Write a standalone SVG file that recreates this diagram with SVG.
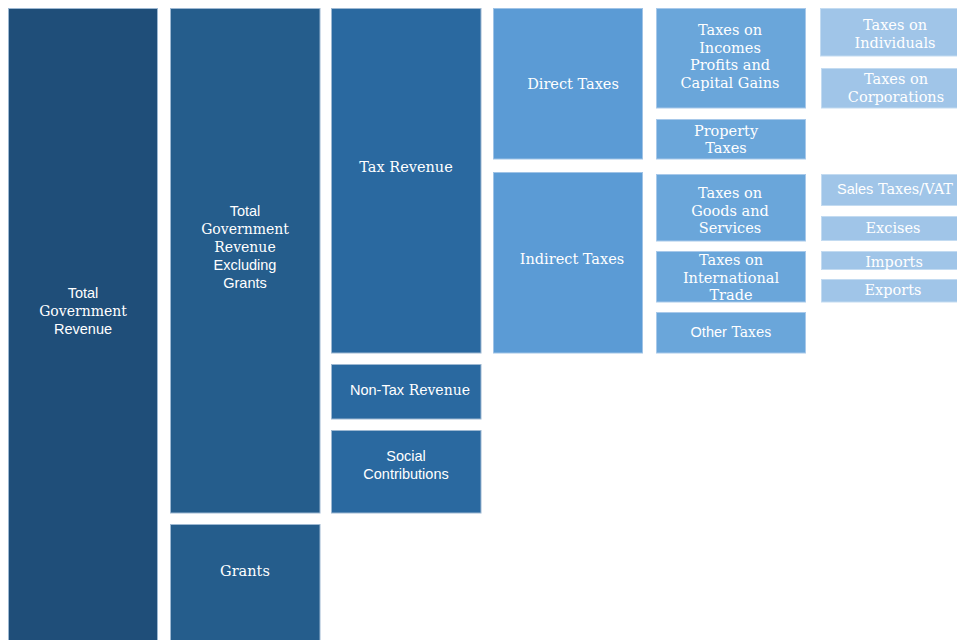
<svg xmlns="http://www.w3.org/2000/svg" width="957" height="640" viewBox="0 0 957 640">
<style>
.b{stroke:#9db8d2;stroke-width:1}
.c1{fill:#1f4e79}
.c2{fill:#255d8c}
.c3{fill:#2a69a0}
.c4{fill:#5b9bd5;stroke:#9fc3e6}
.c5{fill:#6aa6da;stroke:#a8c9ea}
.c6{fill:#a0c5e8;stroke:#c3dbf1}
text{fill:#ffffff;text-anchor:middle;font-size:14.5px;font-family:"DejaVu Serif","Liberation Serif",serif}
.s{font-family:"Liberation Sans",Arial,sans-serif;font-size:14.5px}
.r{font-family:"DejaVu Serif","Liberation Serif",serif;font-size:14px}
</style>
<rect width="957" height="640" fill="#ffffff"/>
<g id="connectors"></g>
<g id="n-total">
<rect class="b c1" x="8.5" y="8.5" width="149" height="640"/>
<text x="83" y="298" class="s">Total</text>
<text x="83" y="316" class="r">Government</text>
<text x="83" y="334" class="s">Revenue</text>
</g>
<g id="n-excl">
<rect class="b c2" x="170.5" y="8.5" width="149.5" height="504.5"/>
<text x="245" y="216" class="s">Total</text>
<text x="245" y="234" class="r">Government</text>
<text x="245" y="252" class="r">Revenue</text>
<text x="245" y="270" class="s">Excluding</text>
<text x="245" y="288" class="s">Grants</text>
</g>
<g id="n-grants">
<rect class="b c2" x="170.5" y="524.5" width="149.5" height="130"/>
<text x="245" y="576">Grants</text>
</g>
<g id="n-tax">
<rect class="b c3" x="331.5" y="8.5" width="149.5" height="344.5"/>
<text x="406" y="172">Tax Revenue</text>
</g>
<g id="n-nontax">
<rect class="b c3" x="331.5" y="364.5" width="149.5" height="54.5"/>
<text x="410" y="395"><tspan class="s">Non-Tax</tspan> <tspan class="r">Revenue</tspan></text>
</g>
<g id="n-social">
<rect class="b c3" x="331.5" y="430.5" width="149.5" height="82.5"/>
<text x="406" y="461" class="s">Social</text>
<text x="406" y="479" class="s">Contributions</text>
</g>
<g id="n-direct">
<rect class="b c4" x="493.5" y="8.5" width="149" height="150.5"/>
<text x="573" y="89">Direct Taxes</text>
</g>
<g id="n-indirect">
<rect class="b c4" x="493.5" y="172.5" width="149" height="180.5"/>
<text x="572" y="264">Indirect Taxes</text>
</g>
<g id="n-income">
<rect class="b c5" x="656.5" y="8.5" width="149" height="99.5"/>
<text x="730" y="35">Taxes on</text>
<text x="730" y="53">Incomes</text>
<text x="730" y="70">Profits and</text>
<text x="730" y="88">Capital Gains</text>
</g>
<g id="n-property">
<rect class="b c5" x="656.5" y="119.5" width="149" height="39.5"/>
<text x="726" y="136">Property</text>
<text x="726" y="153">Taxes</text>
</g>
<g id="n-goods">
<rect class="b c5" x="656.5" y="174.5" width="149" height="66.5"/>
<text x="730" y="198">Taxes on</text>
<text x="730" y="216">Goods and</text>
<text x="730" y="233">Services</text>
</g>
<g id="n-intl">
<rect class="b c5" x="656.5" y="251.5" width="149" height="50.5"/>
<text x="731" y="265">Taxes on</text>
<text x="731" y="283">International</text>
<text x="731" y="300">Trade</text>
</g>
<g id="n-other">
<rect class="b c5" x="656.5" y="312.5" width="149" height="40.5"/>
<text x="731" y="337"><tspan class="s">Other</tspan> <tspan class="r">Taxes</tspan></text>
</g>
<g id="n-individuals">
<rect class="b c6" x="820.5" y="8.5" width="150" height="47.5"/>
<text x="895" y="30">Taxes on</text>
<text x="895" y="48">Individuals</text>
</g>
<g id="n-corporations">
<rect class="b c6" x="821.5" y="68.5" width="150" height="39.5"/>
<text x="896" y="84">Taxes on</text>
<text x="896" y="102">Corporations</text>
</g>
<g id="n-sales">
<rect class="b c6" x="821.5" y="174.5" width="150" height="31"/>
<text x="837" y="194" style="text-anchor:start"><tspan class="s">Sales</tspan> <tspan class="r" style="font-size:14.5px">Taxes/VAT</tspan></text>
</g>
<g id="n-excises">
<rect class="b c6" x="821.5" y="216.5" width="150" height="24"/>
<text x="893" y="233">Excises</text>
</g>
<g id="n-imports">
<rect class="b c6" x="821.5" y="251.5" width="150" height="18"/>
<text x="894" y="267">Imports</text>
</g>
<g id="n-exports">
<rect class="b c6" x="821.5" y="279.5" width="150" height="22.5"/>
<text x="893" y="295">Exports</text>
</g>
</svg>
